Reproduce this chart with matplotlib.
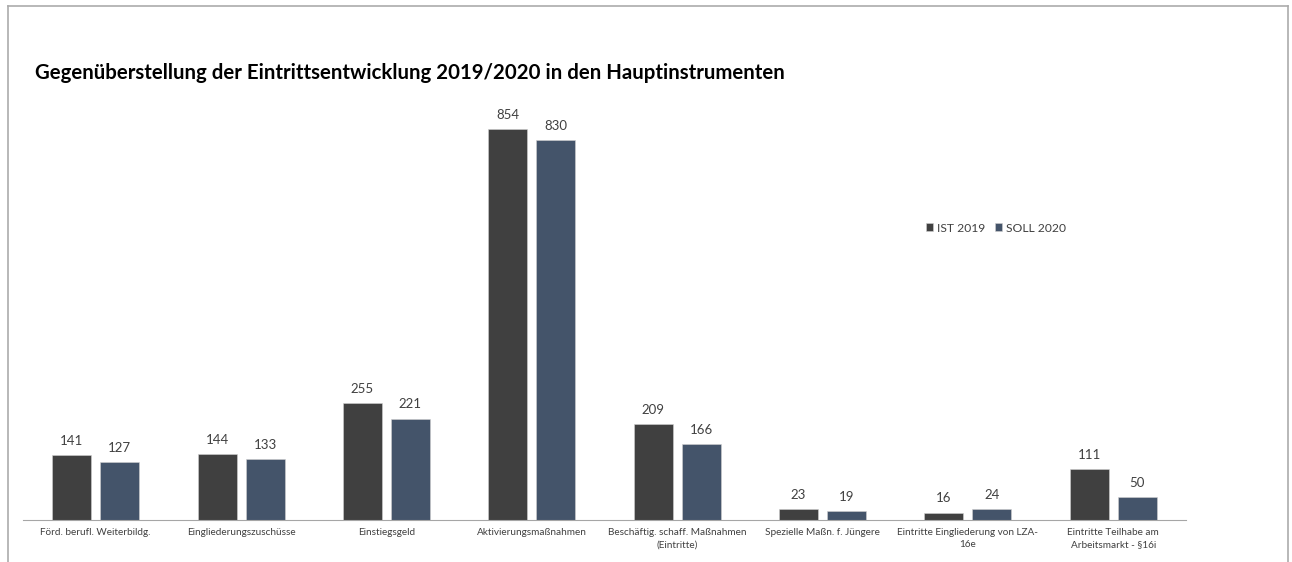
import matplotlib
matplotlib.use("Agg")
import matplotlib.pyplot as plt
import numpy as np
from matplotlib.lines import Line2D

categories = [
    "Förd. berufl. Weiterbildg.",
    "Eingliederungszuschüsse",
    "Einstiegsgeld",
    "Aktivierungsmaßnahmen",
    "Beschäftig. schaff. Maßnahmen\n(Eintritte)",
    "Spezielle Maßn. f. Jüngere",
    "Eintritte Eingliederung von LZA-\n16e",
    "Eintritte Teilhabe am\nArbeitsmarkt - §16i",
]
ist_2019 = [141, 144, 255, 854, 209, 23, 16, 111]
soll_2020 = [127, 133, 221, 830, 166, 19, 24, 50]
series_names = ["IST 2019", "SOLL 2020"]
colors = ["#404040", "#44546A"]

plt.rcParams['font.family'] = ['Lato', 'DejaVu Sans']

W, H = 1292, 562
fig = plt.figure(figsize=(W/100, H/100), dpi=100)

# outer frame
fr = dict(color="#ababab", lw=1.2, transform=fig.transFigure)
fig.add_artist(Line2D([8/W, 1288/W], [1-6/H, 1-6/H], **fr))
fig.add_artist(Line2D([8/W, 8/W], [0, 1-6/H], **fr))
fig.add_artist(Line2D([1288/W, 1288/W], [0, 1-6/H], **fr))

ymax = 900
px_per = 391/854
ax_h = ymax*px_per
ax = fig.add_axes([23/W, (H-520)/H, (1186-23)/W, ax_h/H])

x = np.arange(len(categories))
bw = 0.268
off = 0.165
b1 = ax.bar(x-off, ist_2019, bw, color=colors[0], label=series_names[0], edgecolor="#d0d0d0", linewidth=0.4)
b2 = ax.bar(x+off, soll_2020, bw, color=colors[1], label=series_names[1], edgecolor="#d0d0d0", linewidth=0.4)
for bars in (b1, b2):
    for r in bars:
        ax.annotate(f"{int(r.get_height())}", (r.get_x()+r.get_width()/2, r.get_height()),
                    xytext=(0, 6), textcoords="offset points", ha="center", va="bottom",
                    fontsize=9.5, color="#404040")

ax.set_xlim(-0.5, len(categories)-0.5)
ax.set_ylim(0, ymax)
ax.set_xticks(x)
ax.set_xticklabels(categories, fontsize=7.2, color="#404040", linespacing=1.45)
ax.tick_params(axis='x', length=0, pad=6)
ax.set_yticks([])
for s in ["top", "right", "left"]:
    ax.spines[s].set_visible(False)
ax.spines["bottom"].set_color("#a6a6a6")

fig.text(35/W, 1-73/H, "Gegenüberstellung der Eintrittsentwicklung 2019/2020 in den Hauptinstrumenten",
         fontsize=14.7, fontweight="bold", color="black", va="center", ha="left")

leg = fig.legend(handles=[b1, b2], labels=series_names, loc="center left",
                 bbox_to_anchor=(926/W, 1-228/H), frameon=False, fontsize=8.7,
                 ncol=2, handlelength=0.6, handleheight=0.6, handletextpad=0.3,
                 columnspacing=0.8, borderaxespad=0, borderpad=0)
for t in leg.get_texts():
    t.set_color("#404040")

fig.savefig("out.png", dpi=100)
